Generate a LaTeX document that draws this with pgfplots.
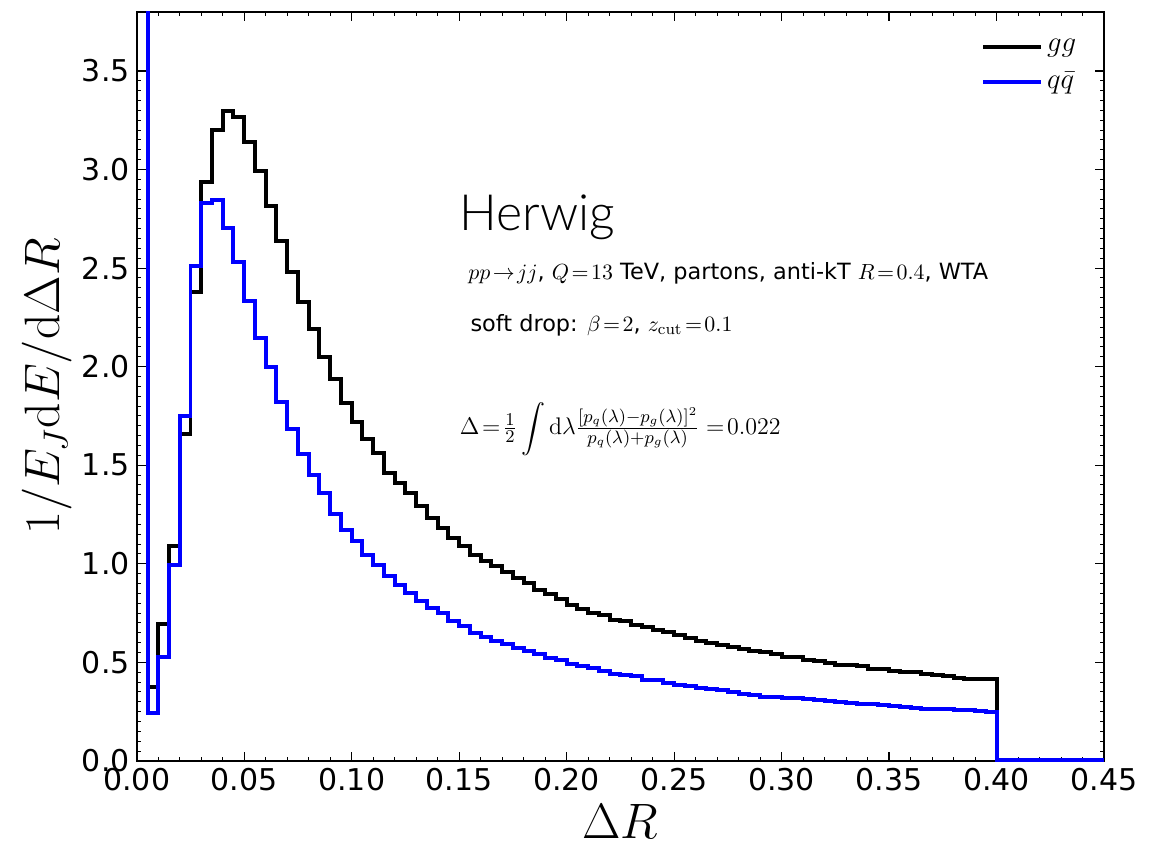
\documentclass[border=0pt]{standalone}
\usepackage{amsmath}
\usepackage[no-math]{fontspec}
\setmainfont{DejaVu Sans}
\newfontfamily\herwigfont{Lato Light}
\usepackage{pgfplots}
\usepackage{pgfplotstable}
\pgfplotsset{compat=1.18}

% step histogram, bin left edges (width 0.005); last row closes the range
\pgfplotstableread{
x      gg     qq
0.000  20     20
0.005  0.375  0.243
0.010  0.697  0.525
0.015  1.093  0.996
0.020  1.657  1.750
0.025  2.377  2.512
0.030  2.939  2.830
0.035  3.202  2.845
0.040  3.295  2.705
0.045  3.266  2.530
0.050  3.142  2.334
0.055  2.990  2.143
0.060  2.814  1.996
0.065  2.636  1.821
0.070  2.482  1.682
0.075  2.329  1.559
0.080  2.190  1.449
0.085  2.047  1.361
0.090  1.940  1.254
0.095  1.818  1.174
0.100  1.720  1.115
0.105  1.635  1.047
0.110  1.560  0.996
0.115  1.462  0.937
0.120  1.411  0.895
0.125  1.361  0.853
0.130  1.293  0.810
0.135  1.234  0.776
0.140  1.183  0.751
0.145  1.132  0.708
0.150  1.089  0.683
0.155  1.047  0.649
0.160  1.013  0.629
0.165  0.988  0.610
0.170  0.957  0.595
0.175  0.929  0.573
0.180  0.903  0.556
0.185  0.869  0.544
0.190  0.849  0.522
0.195  0.822  0.510
0.200  0.793  0.493
0.205  0.771  0.480
0.210  0.751  0.471
0.215  0.742  0.454
0.220  0.717  0.440
0.225  0.708  0.437
0.230  0.692  0.429
0.235  0.680  0.412
0.240  0.663  0.409
0.245  0.652  0.398
0.250  0.641  0.387
0.255  0.624  0.378
0.260  0.607  0.370
0.265  0.599  0.365
0.270  0.590  0.361
0.275  0.578  0.348
0.280  0.570  0.341
0.285  0.559  0.336
0.290  0.551  0.327
0.295  0.544  0.324
0.300  0.530  0.319
0.305  0.527  0.319
0.310  0.514  0.314
0.315  0.505  0.307
0.320  0.497  0.302
0.325  0.488  0.297
0.330  0.488  0.294
0.335  0.483  0.288
0.340  0.468  0.288
0.345  0.466  0.285
0.350  0.459  0.280
0.355  0.453  0.273
0.360  0.449  0.271
0.365  0.443  0.266
0.370  0.436  0.263
0.375  0.429  0.263
0.380  0.422  0.260
0.385  0.416  0.258
0.390  0.416  0.255
0.395  0.416  0.250
0.400  0.004  0.004
0.450  0.004  0.004
}\hist

\begin{document}
\begin{tikzpicture}
\begin{axis}[
    scale only axis,
    width=483.75pt, height=374.7pt,
    xmin=0, xmax=0.45, ymin=0, ymax=3.8,
    xtick={0,0.05,0.1,0.15,0.2,0.25,0.3,0.35,0.4,0.45},
    ytick={0,0.5,1,1.5,2,2.5,3,3.5},
    minor x tick num=4, minor y tick num=9,
    tick align=inside,
    major tick length=4.5pt, minor tick length=2.2pt,
    major tick style={black, line width=0.6pt},
    minor tick style={black, line width=0.5pt},
    axis line style={line width=1pt},
    /pgf/number format/assume math mode=true,
    tick label style={font=\fontsize{15}{18}\selectfont},
    xticklabel style={/pgf/number format/.cd, fixed, fixed zerofill, precision=2},
    yticklabel style={/pgf/number format/.cd, fixed, fixed zerofill, precision=1},
    xlabel={$\Delta R$},
    ylabel={$1/E_J\mathrm{d}E/\mathrm{d}\Delta R$},
    xlabel style={font=\fontsize{28}{32}\selectfont},
    ylabel style={font=\fontsize{26}{30}\selectfont, yshift=-2pt},
    legend style={draw=none, fill=none, at={(0.982,0.975)}, anchor=north east,
        font=\fontsize{14}{16}\selectfont, row sep=5pt},
    legend cell align=left,
    legend image code/.code={\draw[#1, line width=2pt] (0pt,0pt) -- (29pt,0pt);},
]
\addplot[const plot, black, line width=2pt] table[x=x, y=gg] {\hist};
\addplot[const plot, blue, line width=2pt] table[x=x, y=qq] {\hist};
\legend{$gg$, $q\bar{q}$}

\node[anchor=base west, font=\herwigfont\fontsize{25}{28}\selectfont] at (axis cs:0.147,2.69) {Herwig};
\node[anchor=base west, font=\fontsize{11.2}{13}\selectfont] at (axis cs:0.151,2.44)
    {$pp\!\to\! jj$, $Q\!=\!13$ TeV, partons, anti-kT $R\!=\!0.4$, WTA};
\node[anchor=base west, font=\fontsize{11.2}{13}\selectfont] at (axis cs:0.152,2.18)
    {soft drop: $\beta\!=\!2$, $z_{\mathrm{cut}}\!=\!0.1$};
\node[anchor=base west, font=\fontsize{12.8}{15}\selectfont] at (axis cs:0.147,1.655)
    {$\Delta\!=\!\tfrac{1}{2}\displaystyle\int\mathrm{d}\lambda\textstyle\frac{[p_q(\lambda)-p_g(\lambda)]^2}{p_q(\lambda)+p_g(\lambda)}=\!0.022$};
\end{axis}
\path (current axis.south west) ++(-68.4pt,-44pt);
\path (current axis.north east) ++(33pt,5.9pt);
\end{tikzpicture}
\end{document}
